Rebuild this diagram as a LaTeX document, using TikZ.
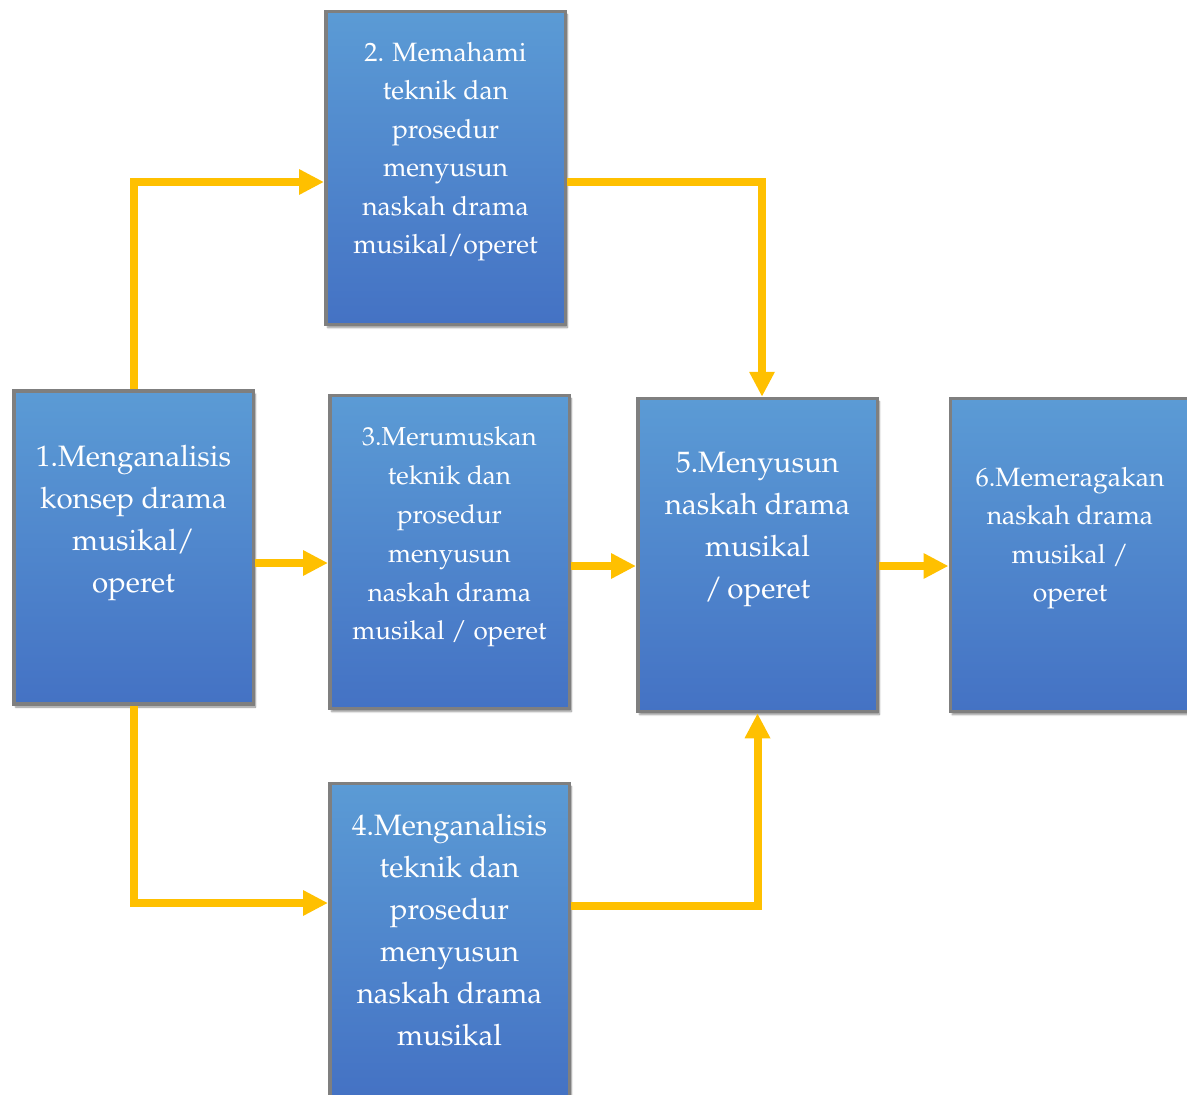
\documentclass[tikz,border=0pt]{standalone}
\usepackage[T1]{fontenc}
\usepackage{mathpazo}
\usetikzlibrary{arrows.meta,shadows.blur}
\definecolor{boxtop}{RGB}{91,155,213}
\definecolor{boxbot}{RGB}{68,114,196}
\definecolor{boxline}{RGB}{127,127,127}
\definecolor{arr}{RGB}{255,192,0}
\tikzset{
  stepbox/.style={rectangle, draw=boxline, line width=3.5pt, top color=boxtop, bottom color=boxbot,
    minimum width=239.5pt, minimum height=313pt, inner sep=0pt,
    blur shadow={shadow xshift=2pt, shadow yshift=-3pt, shadow blur steps=6, shadow opacity=45}},
  bigtext/.style={anchor=north, inner sep=0pt, align=center, text=white, font=\fontsize{29.5}{42}\selectfont},
  smalltext/.style={anchor=north, inner sep=0pt, align=center, text=white, font=\fontsize{26.5}{38.5}\selectfont},
  flow/.style={draw=arr, line width=8pt, -{Triangle[length=25pt,width=24pt]}}
}
\begin{document}
\begin{tikzpicture}[x=1pt,y=-1pt]
\useasboundingbox (0,0) rectangle (1187,1095);
\clip (0,0) rectangle (1187,1095);
% boxes (centres in px)
\node[stepbox] (b1) at (133.5,547.5) {};
\node[stepbox] (b2) at (445.5,168) {};
\node[stepbox] (b3) at (449.5,552) {};
\node[stepbox] (b4) at (449.5,940) {};
\node[stepbox] (b5) at (757.5,555) {};
\node[stepbox] (b6) at (1070,555) {};
% texts
\node[bigtext] (t1) at ([yshift=-47.6pt]b1.north) {\strut 1.Menganalisis\\konsep drama\\musikal/\\operet};
\node[smalltext] (t2) at ([yshift=-24.3pt]b2.north) {\strut 2. Memahami\\teknik dan\\prosedur\\menyusun\\naskah drama\\musikal/operet};
\node[smalltext,font=\fontsize{26}{38.8}\selectfont] (t3) at ([yshift=-24.8pt]b3.north) {\strut 3.Merumuskan\\teknik dan\\prosedur\\menyusun\\naskah drama\\musikal / operet};
\node[bigtext] (t4) at ([yshift=-24.6pt]b4.north) {\strut 4.Menganalisis\\teknik dan\\prosedur\\menyusun\\naskah drama\\musikal};
\node[bigtext] (t5) at ([yshift=-46.6pt]b5.north) {\strut 5.Menyusun\\naskah drama\\musikal\\/\,operet};
\node[smalltext] (t6) at ([yshift=-62.4pt]b6.north) {\strut 6.Memeragakan\\naskah drama\\musikal /\\operet};
% connectors
\draw[flow] (b1.north) |- ([yshift=-14pt]b2.west);
\draw[flow] ([yshift=-14pt]b2.east) -| ([xshift=4.5pt]b5.north);
\draw[flow] ([yshift=-15.5pt]b1.east) -- ([yshift=-11pt]b3.west);
\draw[flow] ([yshift=-14pt]b3.east) -- ([yshift=-11pt]b5.west);
\draw[flow] ([yshift=-11pt]b5.east) -- ([yshift=-11pt]b6.west);
\draw[flow] (b1.south) |- ([yshift=37pt]b4.west);
\draw[flow] ([yshift=34pt]b4.east) -| (b5.south);
\end{tikzpicture}
\end{document}
